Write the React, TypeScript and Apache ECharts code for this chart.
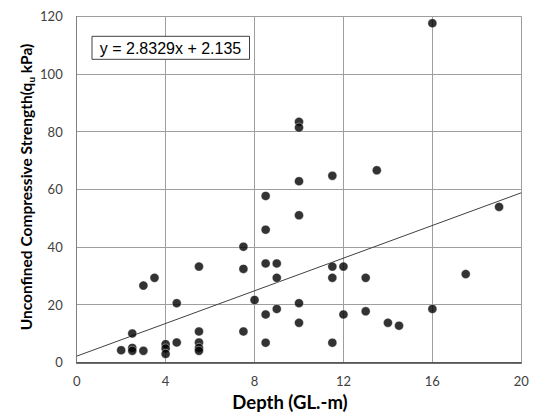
import React, { useEffect, useRef } from "react";
import * as echarts from "echarts";

// Depth (GL.-m) of each sample
const depths = [
  2.0, 2.5, 2.5, 2.5, 3.0, 3.0, 3.5, 4.0, 4.0, 4.0, 4.5, 4.5,
  5.5, 5.5, 5.5, 5.5, 5.5, 7.5, 7.5, 7.5, 8.0,
  8.5, 8.5, 8.5, 8.5, 8.5, 9.0, 9.0, 9.0,
  10.0, 10.0, 10.0, 10.0, 10.0, 10.0,
  11.5, 11.5, 11.5, 11.5, 12.0, 12.0, 13.0, 13.0, 13.5, 14.0, 14.5,
  16.0, 16.0, 17.5, 19.0,
];
// Unconfined compressive strength qu (kPa)
const strengths = [
  4.2, 10.0, 5.0, 4.0, 4.0, 26.6, 29.3, 6.3, 4.8, 2.9, 20.5, 6.9,
  33.2, 10.7, 6.9, 5.0, 4.0, 40.1, 32.4, 10.7, 21.6,
  57.7, 46.0, 34.3, 16.6, 6.8, 34.3, 29.3, 18.5,
  83.4, 81.4, 62.8, 51.0, 20.5, 13.7,
  64.7, 33.2, 29.3, 6.8, 33.2, 16.6, 29.3, 17.7, 66.6, 13.7, 12.7,
  117.6, 18.5, 30.6, 53.9,
];
// Linear trend line stated on the chart
const trendSlope = 2.8329;
const trendIntercept = 2.135;
const trendX = [0, 20];
const xTicks = { min: 0, max: 20, interval: 4 };
const yTicks = { min: 0, max: 120, interval: 20 };
const equationLabel = "y = 2.8329x + 2.135";
const xTitle = "Depth (GL.-m)";

export default function App() {
  const ref = useRef<HTMLDivElement>(null);
  useEffect(() => {
    if (!ref.current) return;
    const chart = echarts.init(ref.current, undefined, { renderer: "svg" });
    const points = depths.map((d, i) => [d, strengths[i]]);
    const trend = trendX.map((x) => [x, trendSlope * x + trendIntercept]);
    const labelFont = "Lato";
    chart.setOption({
      animation: false,
      backgroundColor: "#ffffff",
      grid: { left: 76.7, right: 18.7, top: 16.3, bottom: 51.7, containLabel: false },
      xAxis: {
        type: "value",
        min: xTicks.min,
        max: xTicks.max,
        interval: xTicks.interval,
        axisLine: { show: true, lineStyle: { color: "#404040", width: 1.5 } },
        axisTick: { show: false },
        splitLine: { show: true, lineStyle: { color: "#9e9e9e", width: 1 } },
        axisLabel: { fontSize: 13, color: "#404040", margin: 12, fontFamily: labelFont },
      },
      yAxis: {
        type: "value",
        min: yTicks.min,
        max: yTicks.max,
        interval: yTicks.interval,
        axisLine: { show: true, lineStyle: { color: "#808080", width: 1 } },
        axisTick: { show: false },
        splitLine: { show: true, lineStyle: { color: "#9e9e9e", width: 1 } },
        axisLabel: { fontSize: 13, color: "#404040", margin: 14, fontFamily: labelFont },
      },
      series: [
        {
          type: "line",
          data: trend,
          symbol: "none",
          lineStyle: { color: "#404040", width: 1 },
          z: 2,
        },
        {
          type: "scatter",
          data: points,
          symbol: "circle",
          symbolSize: 9,
          itemStyle: { color: "#000000", borderColor: "#ffffff", borderWidth: 0.5 },
          z: 3,
        },
      ],
      graphic: [
        {
          type: "rect",
          shape: { x: 92, y: 36.3, width: 157.5, height: 23 },
          style: { fill: "#ffffff", stroke: "#404040", lineWidth: 1 },
          z: 10,
        },
        {
          type: "text",
          x: 170.5,
          y: 48,
          style: {
            text: equationLabel,
            fontSize: 16,
            fontFamily: "Liberation Sans",
            fill: "#000000",
            align: "center",
            verticalAlign: "middle",
          },
          z: 11,
        },
        {
          type: "text",
          x: 290,
          y: 402,
          style: {
            text: xTitle,
            fontSize: 18.5,
            fontWeight: "bold",
            fontFamily: labelFont,
            fill: "#000000",
            align: "center",
            verticalAlign: "middle",
          },
        },
        {
          type: "text",
          x: 26,
          y: 187,
          rotation: Math.PI / 2,
          style: {
            text: "{a|Unconfined Compressive Strength(q}{s|u}{a| kPa)}",
            align: "center",
            verticalAlign: "middle",
            rich: {
              a: {
                fontSize: 15.5,
                fontWeight: "bold",
                fontFamily: labelFont,
                fill: "#000000",
                lineHeight: 20,
                verticalAlign: "middle",
              },
              s: {
                fontSize: 10,
                fontWeight: "bold",
                fontFamily: labelFont,
                fill: "#000000",
                lineHeight: 10,
                verticalAlign: "bottom",
              },
            },
          },
        },
      ],
    });
    return () => chart.dispose();
  }, []);
  return (
    <div
      ref={ref}
      style={{ position: "fixed", left: 0, top: 0, width: 540, height: 414 }}
    />
  );
}
